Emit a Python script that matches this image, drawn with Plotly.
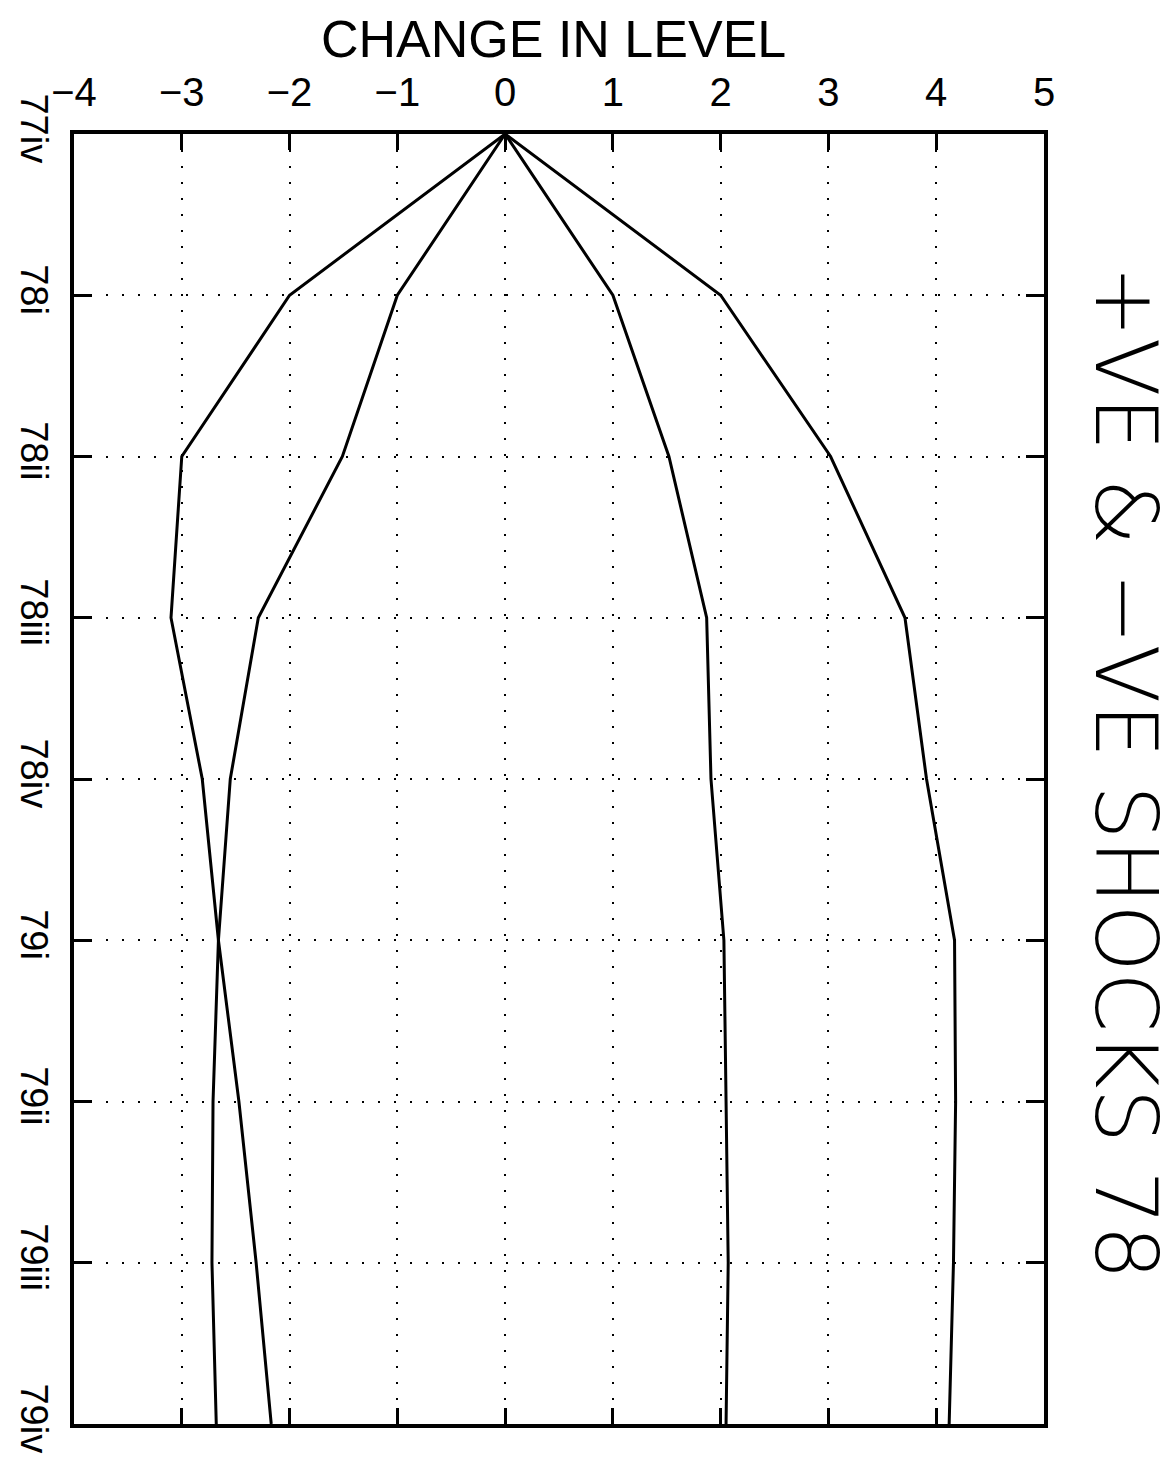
import plotly.graph_objects as go

quarters = ["77iv", "78i", "78ii", "78iii", "78iv", "79i", "79ii", "79iii", "79iv"]

neg_outer = [0, -2.00, -3.00, -3.10, -2.81, -2.66, -2.47, -2.31, -2.17]
neg_inner = [0, -1.00, -1.51, -2.29, -2.55, -2.66, -2.71, -2.72, -2.68]
pos_inner = [0, 1.00, 1.52, 1.87, 1.91, 2.03, 2.05, 2.07, 2.05]
pos_outer = [0, 2.00, 3.02, 3.71, 3.91, 4.17, 4.18, 4.16, 4.12]

x_ticks = [-4, -3, -2, -1, 0, 1, 2, 3, 4, 5]

title_top = "CHANGE IN LEVEL"
title_side = "+VE &amp; −VE SHOCKS 78"

FONT = "Liberation Sans"

fig = go.Figure()
for series in [neg_outer, neg_inner, pos_inner, pos_outer]:
    fig.add_trace(go.Scatter(
        x=series, y=quarters, mode="lines",
        line=dict(color="black", width=3),
        hoverinfo="skip", cliponaxis=True,
    ))

fig.update_layout(
    width=1176, height=1473,
    margin=dict(l=66, r=140, t=126, b=57),
    plot_bgcolor="white", paper_bgcolor="white",
    showlegend=False,
    font=dict(family=FONT, color="black"),
)

fig.update_xaxes(
    side="top", range=[-4, 5], tickvals=x_ticks,
    ticks="inside", ticklen=16, tickwidth=3, tickcolor="black",
    showline=True, linewidth=3.5, linecolor="black", mirror="allticks",
    showgrid=True, gridcolor="black", gridwidth=1.8, griddash="2px,14px",
    zeroline=False, automargin=False, layer="above traces",
    tickfont=dict(family=FONT, size=40, color="black"),
    ticklabelstandoff=8,
)

fig.update_yaxes(
    type="category", categoryorder="array", categoryarray=quarters,
    range=[8, 0],
    tickangle=90,
    ticks="inside", ticklen=18, tickwidth=3, tickcolor="black",
    showline=True, linewidth=3.5, linecolor="black", mirror="allticks",
    showgrid=True, gridcolor="black", gridwidth=1.8, griddash="2px,14px",
    zeroline=False, automargin=False, layer="above traces",
    tickfont=dict(family=FONT, size=38, color="black"),
    ticklabelstandoff=4,
)

fig.add_annotation(
    text=title_top, xref="paper", yref="paper",
    x=0.494, y=1.074, xanchor="center", yanchor="middle",
    showarrow=False,
    font=dict(family=FONT, size=52, color="black"),
)

fig.add_annotation(
    text=title_side, xref="paper", yref="paper",
    x=1.0845, y=0.505, xanchor="center", yanchor="middle",
    textangle=90, showarrow=False,
    font=dict(family="DejaVu Sans", size=86, color="black", weight=200),
)

fig.write_html("out.html")
